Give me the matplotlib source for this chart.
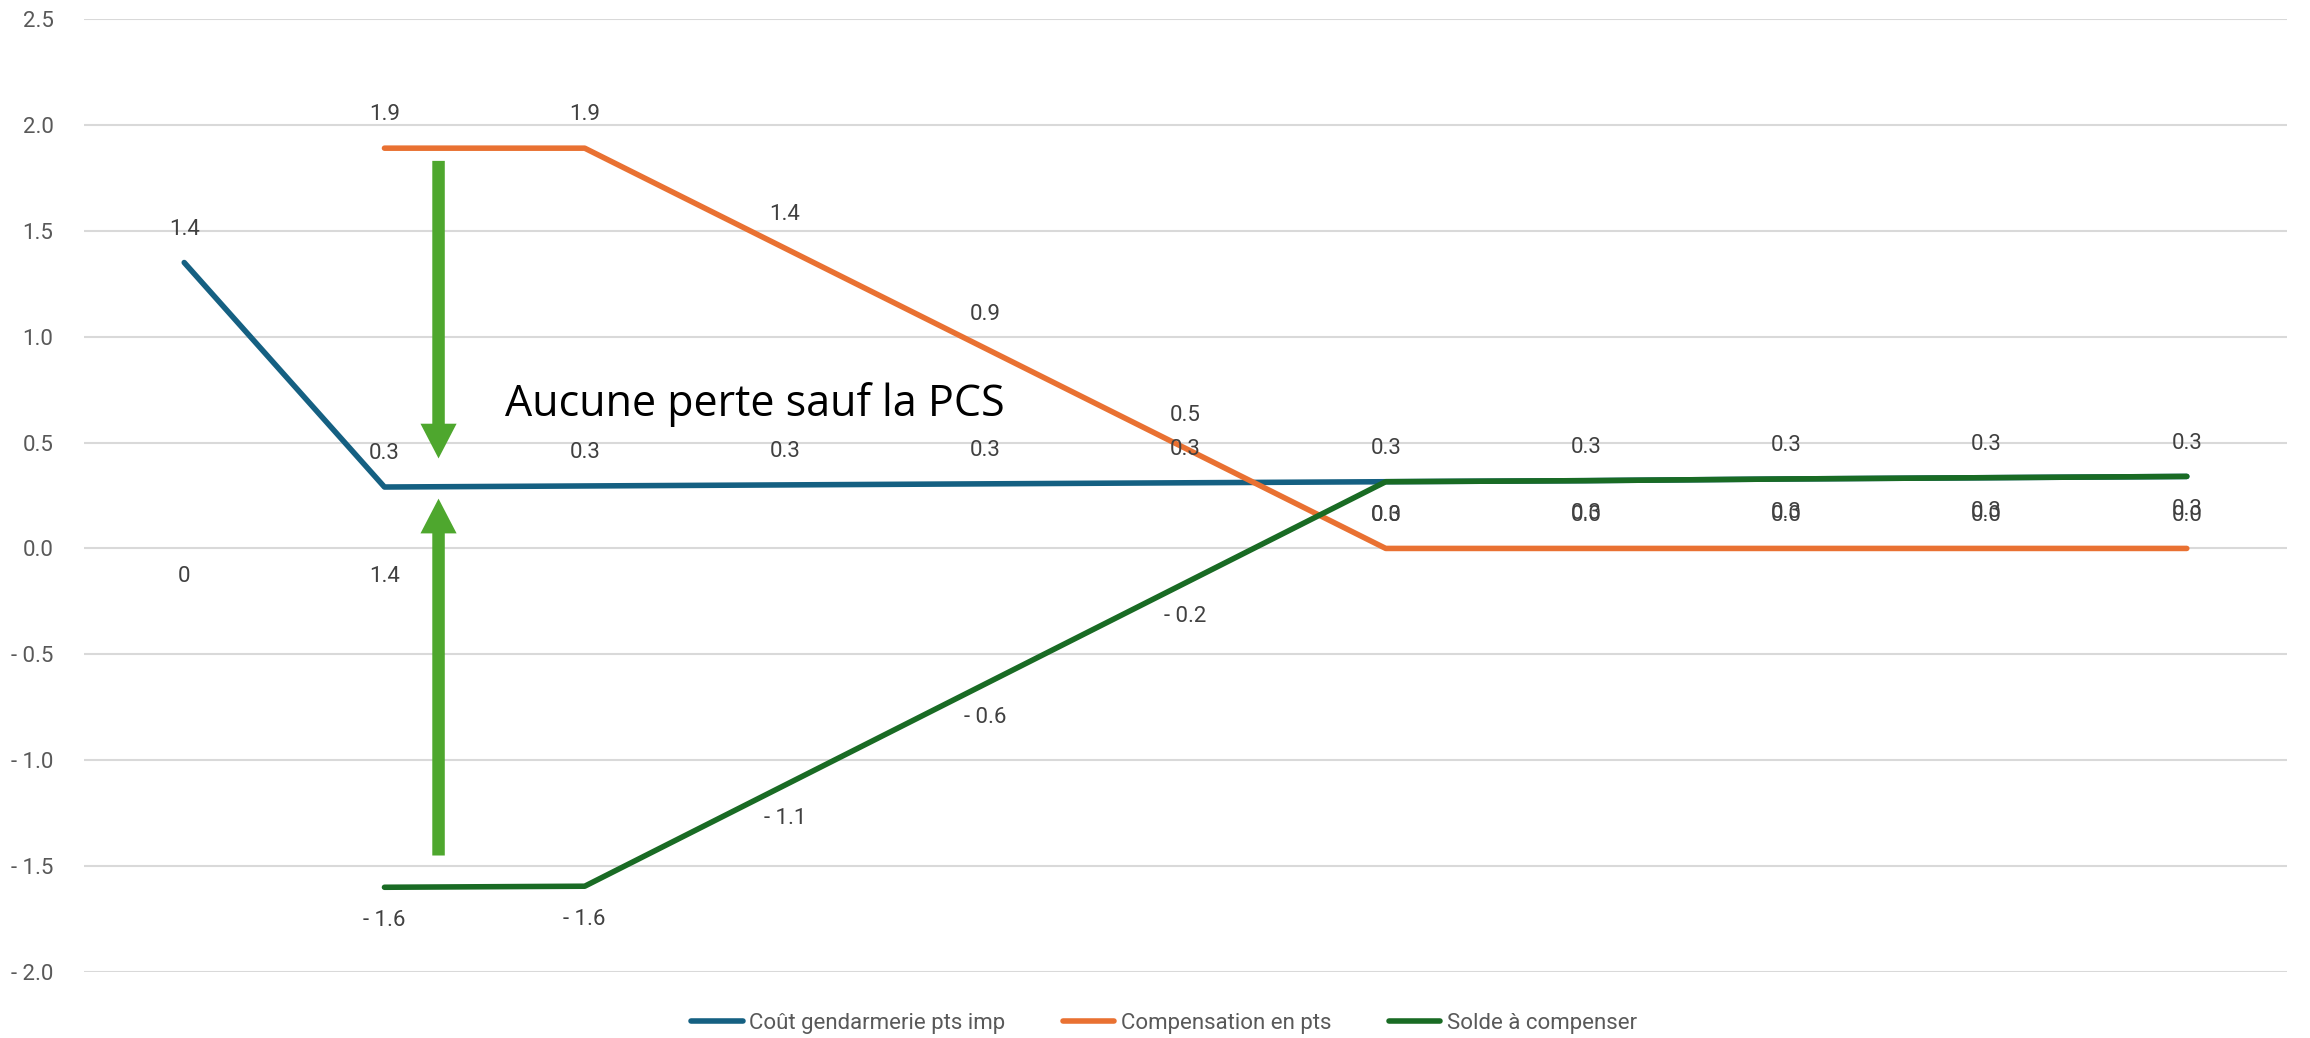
import numpy as np
import matplotlib
matplotlib.use("Agg")
import matplotlib.pyplot as plt

# data
x = list(range(11))
cout = [1.35, 0.29, 0.295, 0.30, 0.305, 0.31, 0.315, 0.32, 0.328, 0.334, 0.34]
compensation = [None, 1.89, 1.89, 1.4175, 0.945, 0.4725, 0.0, 0.0, 0.0, 0.0, 0.0]
solde = [None, -1.60, -1.595, -1.1175, -0.64, -0.1625, 0.315, 0.32, 0.328, 0.334, 0.34]
extra_labels = ["0", "1.4"]  # stray labels under the first two categories

series_names = ["Coût gendarmerie pts imp", "Compensation en pts", "Solde à compenser"]
colors = ["#156082", "#E97132", "#196B24"]
note = "Aucune perte sauf la PCS"

label_font = ["Roboto", "DejaVu Sans"]
grey = "#595959"
fs = 16


def fmt(v):
    s = f"{abs(v):.1f}"
    if round(v, 1) < 0:
        return "- " + s
    return s


def to_arr(vals):
    return np.array([np.nan if v is None else v for v in vals], dtype=float)


fig = plt.figure(figsize=(23.1, 10.38), dpi=100)
ax = fig.add_axes([0.0364, 0.0636, 0.9536, 0.9181])

ax.plot(x, to_arr(cout), color=colors[0], linewidth=4, solid_capstyle="round", label=series_names[0], zorder=3)
ax.plot(x, to_arr(compensation), color=colors[1], linewidth=4, solid_capstyle="round", label=series_names[1], zorder=3)
ax.plot(x, to_arr(solde), color=colors[2], linewidth=4, solid_capstyle="round", label=series_names[2], zorder=4)

# data labels: blue and orange above, green below
for vals, dy in [(cout, 24), (compensation, 24), (solde, -24)]:
    for xi, v in zip(x, vals):
        if v is None:
            continue
        ax.annotate(fmt(v), (xi, v), xytext=(0, dy), textcoords="offset points",
                    ha="center", va="center", fontsize=fs, color="#404040", family=label_font)
for xi, s in zip(x[:2], extra_labels):
    ax.annotate(s, (xi, 0), xytext=(0, -20), textcoords="offset points",
                ha="center", va="center", fontsize=fs, color="#404040", family=label_font)

# green arrows
arrow_green = "#4EA72E"
aprops = dict(arrowstyle="simple,head_length=1.25,head_width=1.3,tail_width=0.45",
              mutation_scale=20, color=arrow_green, lw=0, shrinkA=0, shrinkB=0)
ax.annotate("", xy=(1.27, 0.425), xytext=(1.27, 1.83), arrowprops=aprops, zorder=5)
ax.annotate("", xy=(1.27, 0.235), xytext=(1.27, -1.45), arrowprops=aprops, zorder=5)

ax.text(1.6, 0.68, note, fontsize=31, color="black", family=["Open Sans", "DejaVu Sans"],
        ha="left", va="center")

ax.set_xlim(-0.5, 10.5)
ax.set_ylim(-2.0, 2.5)
yt = np.arange(-2.0, 2.51, 0.5)
ax.set_yticks(yt)
ax.set_yticklabels([fmt(t) for t in yt], fontsize=fs, color=grey, family=label_font)
ax.set_xticks([])
ax.tick_params(axis="y", length=0, pad=22)
ax.grid(axis="y", color="#D9D9D9", linewidth=1.5)
ax.set_axisbelow(True)
for sp in ax.spines.values():
    sp.set_visible(False)

fig.legend(loc="center", bbox_to_anchor=(0.504, 0.014), ncol=3, frameon=False,
           prop={"family": label_font, "size": fs}, labelcolor=grey,
           handlelength=2.3, columnspacing=2.6, handletextpad=0.3)

fig.savefig("out.png", dpi=100)
